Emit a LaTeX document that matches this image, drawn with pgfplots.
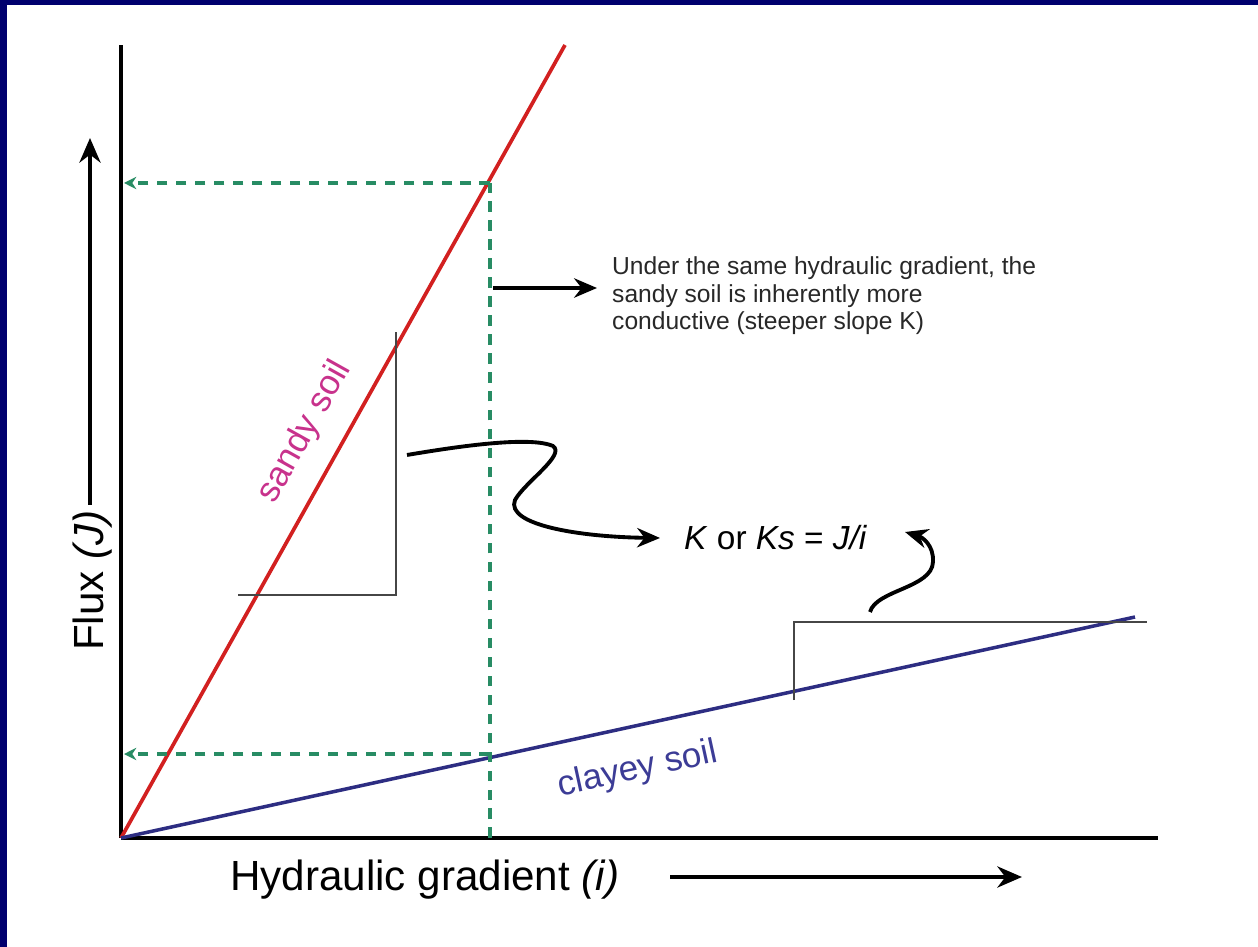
\documentclass[border=0pt]{standalone}
\usepackage{pgfplots}
\pgfplotsset{compat=1.18}
\usepackage{fontspec}
\setmainfont{Liberation Sans}
\usetikzlibrary{arrows.meta}
\definecolor{navyb}{RGB}{0,0,110}
\definecolor{sandred}{RGB}{210,32,32}
\definecolor{claynavy}{RGB}{45,45,130}
\definecolor{dgreen}{RGB}{40,140,100}
\definecolor{sandtxt}{RGB}{200,50,140}
\definecolor{claytxt}{RGB}{60,60,150}
\definecolor{trigray}{RGB}{70,70,70}
\definecolor{annot}{RGB}{40,40,40}
\begin{document}
\begin{tikzpicture}[x=0.2mm,y=-0.2mm]
\path[use as bounding box] (0,0) rectangle (1258,947);
\fill[white] (0,0) rectangle (1258,947);
\fill[navyb] (0,0) rectangle (1258,5);
\fill[navyb] (0,0) rectangle (7,947);
\begin{axis}[
  at={(24.2mm,-167.6mm)}, anchor=south west,
  scale only axis, width=207.4mm, height=158.6mm,
  xmin=0, xmax=10.37, ymin=0, ymax=7.93,
  axis x line=bottom, axis y line=left,
  axis line style={-, line width=2.3pt, black},
  ticks=none, clip=false,
]
% sandy soil
\addplot[sandred, line width=2.1pt] coordinates {(0,0) (4.44,7.93)};
% clayey soil
\addplot[claynavy, line width=2pt] coordinates {(0,0) (10.14,2.21)};
% dashed guides
\addplot[dgreen, line width=2.1pt, dash pattern=on 6pt off 4.8pt] coordinates {(3.69,0) (3.69,6.55)};
\addplot[dgreen, line width=2.1pt, dash pattern=on 6pt off 4.8pt, -{Stealth[length=7pt,width=7pt]}] coordinates {(3.69,6.55) (0.03,6.55)};
\addplot[dgreen, line width=2.1pt, dash pattern=on 6pt off 4.8pt, -{Stealth[length=7pt,width=7pt]}] coordinates {(3.69,0.84) (0.03,0.84)};
% slope triangles
\addplot[trigray, line width=1.1pt] coordinates {(1.17,2.43) (2.75,2.43) (2.75,5.06)};
\addplot[trigray, line width=1.1pt] coordinates {(6.73,1.38) (6.73,2.16) (10.26,2.16)};
\end{axis}
% axis labels
\node[anchor=west, font=\fontsize{24}{28}\selectfont] at (224,880) {Hydraulic gradient \textit{(i)}};
\draw[line width=2.3pt, -{Stealth[length=14pt,width=12pt]}] (670,877) -- (1022,877);
\node[anchor=west, rotate=90, font=\fontsize{24}{28}\selectfont] at (93,657) {Flux \textit{(J)}};
\draw[line width=2.3pt, -{Stealth[length=14pt,width=12pt]}] (90,505) -- (90,138);
% line labels
\node[rotate=60.8, text=sandtxt, font=\fontsize{20}{24}\selectfont] at (305,432) {sandy soil};
\node[rotate=12.3, text=claytxt, font=\fontsize{20}{24}\selectfont] at (638,770) {clayey soil};
% annotation
\draw[line width=2.5pt, -{Stealth[length=13pt,width=11pt]}] (493,288) -- (597,288);
\node[anchor=base west, text=annot, font=\fontsize{14}{16}\selectfont] at (606,275) {Under the same hydraulic gradient, the};
\node[anchor=base west, text=annot, font=\fontsize{14}{16}\selectfont] at (606,303) {sandy soil is inherently more};
\node[anchor=base west, text=annot, font=\fontsize{14}{16}\selectfont] at (606,330) {conductive (steeper slope K)};
% K formula
\node[anchor=west, font=\fontsize{19}{22}\selectfont] at (678,538) {\textit{K} or \textit{Ks} = \textit{J/i}};
\draw[line width=2.2pt, -{Stealth[length=13pt,width=11pt]}] (407,455) .. controls (460,446) and (530,436) .. (553,446) .. controls (566,455) and (525,482) .. (515,500) .. controls (505,525) and (580,537) .. (660,538);
\draw[line width=2.2pt, -{Stealth[length=13pt,width=11pt]}] (870,612) .. controls (876,590) and (932,588) .. (933,562) .. controls (934,545) and (922,537) .. (905,532);
\end{tikzpicture}
\end{document}
